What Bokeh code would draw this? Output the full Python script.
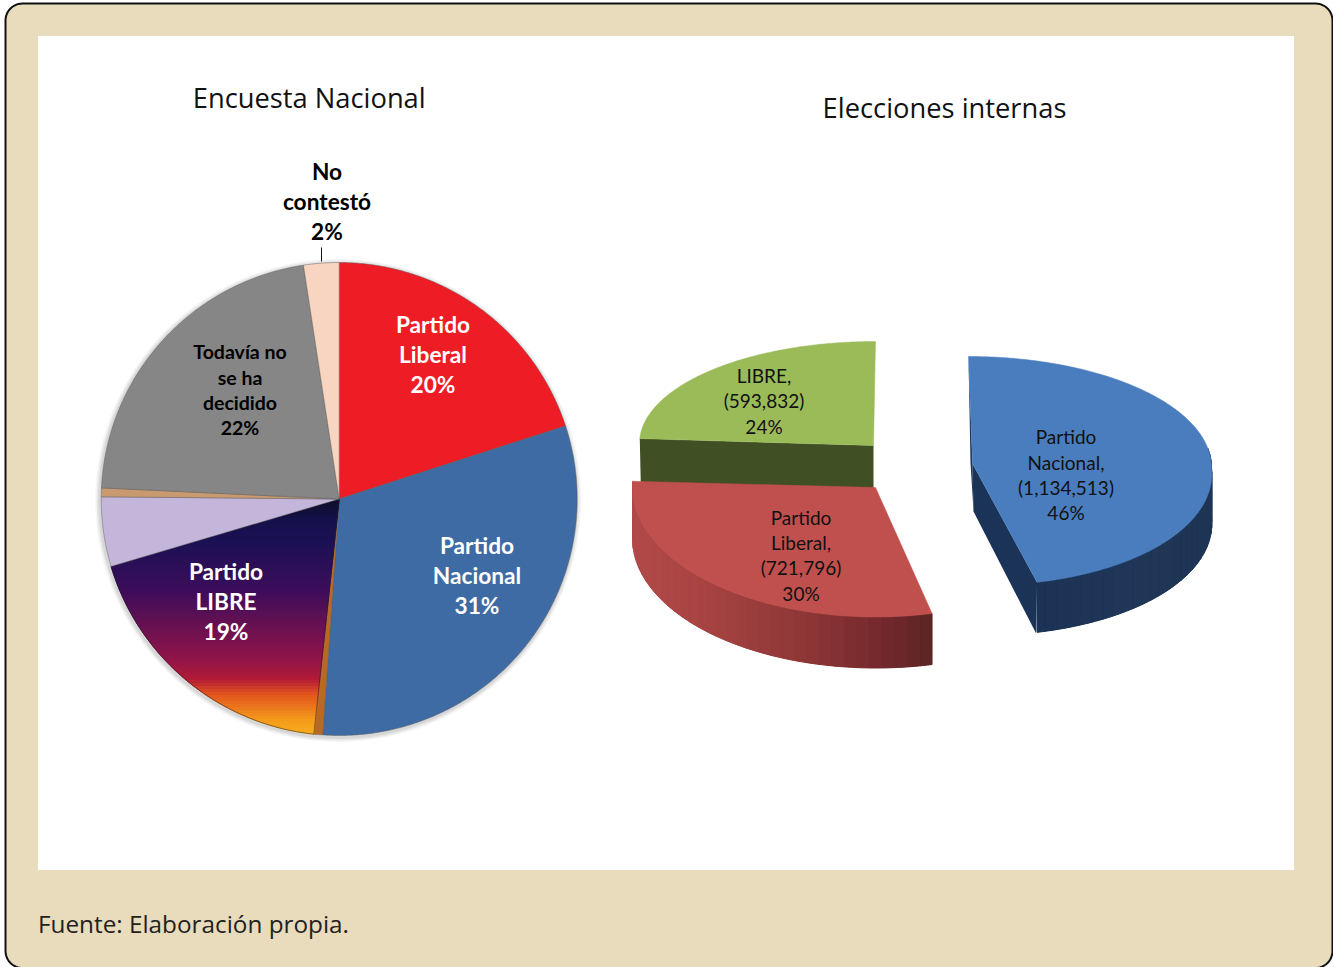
import math
from bokeh.plotting import figure
from bokeh.models import Range1d
from bokeh.core.properties import value
from bokeh.embed import file_html
from bokeh.resources import INLINE

# ---------- data ----------
survey_categories = ["Partido Liberal", "Partido Nacional", "Otro A", "Partido LIBRE", "Otro B", "Otro C",
                     "Todavía no se ha decidido", "No contestó"]
survey_values = [20.0, 31.1, 0.6, 18.7, 4.75, 0.6, 21.85, 2.4]
survey_colors = ["#ee1c25", "#3e6ba3", "#b86a22", None, "#c4b6da", "#c99a70", "#868686", "#f8d5c0"]

internal_categories = ["Partido Nacional", "Partido Liberal", "LIBRE"]
internal_votes = [1134513, 721796, 593832]

title_left = "Encuesta Nacional"
title_right = "Elecciones internas"
source_note = "Fuente: Elaboración propia."

survey_labels = [
    (["Partido", "Liberal", "20%"], 433, [325, 355, 385], "white", 22.7),
    (["Partido", "Nacional", "31%"], 477, [546, 576, 606], "white", 22.7),
    (["Partido", "LIBRE", "19%"], 226, [572, 602, 632], "white", 22.7),
    (["Todavía no", "se ha", "decidido", "22%"], 240, [352, 378, 403, 428], "black", 19.5),
    (["No", "contestó", "2%"], 327, [172, 202, 232], "black", 22.7),
]
internal_labels = [
    (["LIBRE,", "(593,832)", "24%"], 764, [376, 401, 427]),
    (["Partido", "Liberal,", "(721,796)", "30%"], 801, [518, 543, 568, 594]),
    (["Partido", "Nacional,", "(1,134,513)", "46%"], 1066, [437, 463, 488, 513]),
]

# ---------- helpers ----------
def hex2rgb(h):
    return tuple(int(h[i:i + 2], 16) for i in (1, 3, 5))

def ramp(stops, t):
    if t <= stops[0][0]:
        return stops[0][1]
    for (a, ca), (b, cb) in zip(stops, stops[1:]):
        if t <= b:
            f = (t - a) / (b - a)
            ra, rb = hex2rgb(ca), hex2rgb(cb)
            return "#%02x%02x%02x" % tuple(round(x + (y - x) * f) for x, y in zip(ra, rb))
    return stops[-1][1]

def clip_y(poly, lo, hi):
    def clip(pts, inside, cross):
        out = []
        for i, p in enumerate(pts):
            q = pts[(i + 1) % len(pts)]
            if inside(p):
                out.append(p)
            if inside(p) != inside(q):
                out.append(cross(p, q))
        return out
    def at(y):
        return lambda p, q: (p[0] + (q[0] - p[0]) * (y - p[1]) / (q[1] - p[1]), y)
    pts = clip(poly, lambda p: p[1] >= lo, at(lo))
    if pts:
        pts = clip(pts, lambda p: p[1] <= hi, at(hi))
    return pts

def rounded(x0, y0, x1, y1, r):
    pts = []
    for cx, cy, a0 in [(x1 - r, y0 + r, -90), (x1 - r, y1 - r, 0), (x0 + r, y1 - r, 90), (x0 + r, y0 + r, 180)]:
        for k in range(13):
            a = math.radians(a0 + k * 7.5)
            pts.append((cx + r * math.cos(a), cy + r * math.sin(a)))
    return pts

p = figure(width=1333, height=967, x_range=Range1d(0, 1333), y_range=Range1d(967, 0),
           output_backend="svg", toolbar_location=None, min_border=0,
           background_fill_color="white", border_fill_color="white", outline_line_color=None,
           styles={"position": "absolute", "left": "0px", "top": "0px"})
p.axis.visible = False
p.grid.visible = False

def poly(pts, fill, line=None, lw=1, alpha=1.0, line_alpha=1.0):
    p.patch([q[0] for q in pts], [q[1] for q in pts], fill_color=fill, fill_alpha=alpha,
            line_color=line, line_width=lw, line_alpha=line_alpha)

def label(text, x, y, color, size, style="normal", font="Lato"):
    p.text([x], [y], text=[text], text_color=color, text_font=value(font), text_font_size=f"{size}px",
           text_font_style=style, text_align="center", text_baseline="middle")

# ---------- frame ----------
poly(rounded(5, 3, 1332, 967.5, 17), "#e8dcbd", "#111111", 2)
p.quad(left=[37.5], right=[1293.5], top=[35.5], bottom=[869.5], fill_color="white", line_color=None)

# ---------- left pie ----------
CX, CY, RX, RY = 338.7, 498.5, 238, 236.5

def wedge(a0, a1):
    n = max(3, int((a1 - a0) * 2))
    pts = [(CX, CY)]
    for k in range(n + 1):
        a = math.radians(a0 + (a1 - a0) * k / n)
        pts.append((CX + RX * math.sin(a), CY - RY * math.cos(a)))
    return pts

for grow, alpha in [(5, 0.05), (3.5, 0.07), (2, 0.10)]:
    p.ellipse([CX - 1], [CY + 1.5], width=[2 * (RX + grow)], height=[2 * (RY + grow)],
              fill_color="#444444", fill_alpha=alpha, line_color=None)

libre_stops = [(497, "#0e0e24"), (520, "#14104a"), (543, "#1b1055"), (593, "#3f0d5a"), (660, "#921448"),
               (680, "#b31c35"), (693, "#e0501e"), (720, "#f59a1a"), (736, "#f8b020")]
total = sum(survey_values)
angle = 0.0
for val, col in zip(survey_values, survey_colors):
    a1 = angle + val / total * 360
    w = wedge(angle, a1)
    if col is None:
        poly(w, "#3f0d5a")
        y = 497
        while y < 737:
            band = clip_y(w, y, y + 3)
            if len(band) > 2:
                c = ramp(libre_stops, y + 1.5)
                poly(band, c, c, 1)
            y += 3
        poly(w, None, "#222222", 1, 0.0, 0.5)
    else:
        poly(w, col, "#5a5a5a", 1, 1.0, 0.45)
    angle = a1

p.segment([321], [247], [321], [261], line_color="#111111", line_width=1)

# ---------- right exploded 3D pie ----------
def arc_pt(s, t):
    a = math.radians(t)
    ry = s["ry"] if math.cos(a) < 0 else s.get("ry_top", s["ry"])
    y = s["cy"] - ry * math.cos(a)
    x = s["cx"] + s["rx"] * math.sin(a) + s.get("shear", 0) * max(0, y - s["cy"])
    return x, y

vote_total = sum(internal_votes)
angles = [0.0]
for v in internal_votes:
    angles.append(angles[-1] + v / vote_total * 360)

geo_blue = dict(cx=968, cy=467, rx=243, ry=118, ry_top=111, shear=0.11, apex=(972, 463), depth=50)
geo_red = dict(cx=875.5, cy=487, rx=243.5, ry=129.5, apex=(875, 487), depth=51)
geo_green = dict(cx=875, cy=443, rx=236, ry=102, apex=(873, 445), depth=43)

def top_face(s, a0, a1):
    n = int((a1 - a0) * 2)
    return [s["apex"]] + [arc_pt(s, a0 + (a1 - a0) * k / n) for k in range(n + 1)]

def outer_wall(s, a0, a1, stops, base):
    d = s["depth"]
    n = int(a1 - a0)
    ring = [arc_pt(s, a0 + (a1 - a0) * k / n) for k in range(n + 1)]
    poly(ring + [(q[0], q[1] + d) for q in reversed(ring)], base)
    step = 3
    for k in range(0, n, step):
        seg = ring[k:k + step + 1]
        c = ramp(stops, (seg[0][0] + seg[-1][0]) / 2)
        poly(seg + [(q[0], q[1] + d) for q in reversed(seg)], c, c, 1)

# green slice
g0, g1 = angles[2], angles[3]
gl = arc_pt(geo_green, g0)
ax, ay = geo_green["apex"]
poly([gl, (ax, ay), (ax, ay + geo_green["depth"]), (gl[0] + 1, gl[1] + geo_green["depth"] + 2)], "#404f24")
poly(top_face(geo_green, g0, g1), "#9bbb59", "#9bbb59", 0.5)

# red slice
r0, r1 = angles[1], angles[2]
outer_wall(geo_red, r0, r1, [(632, "#b04a48"), (700, "#a84443"), (800, "#8f3737"), (880, "#74292d"), (932, "#5c2525")],
           "#8f3737")
poly(top_face(geo_red, r0, r1), "#c0504d", "#c0504d", 0.5)

# blue slice
b0, b1 = angles[0], angles[1]
ax, ay = geo_blue["apex"]
d = geo_blue["depth"]
outer_wall(geo_blue, 80, b1, [(1036, "#1d3355"), (1130, "#1f3658"), (1212, "#1e3555")], "#1e3557")
fp = arc_pt(geo_blue, b1)
poly([(ax, ay), fp, (fp[0] - 1, fp[1] + d + 1), (ax + 1, ay + d - 2)], "#1c3358")
s0 = arc_pt(geo_blue, b0)
poly([s0, (ax, ay), (ax + 1, ay + d - 2), (ax - 2, ay)], "#1c3358")
poly(top_face(geo_blue, b0, b1), "#4a7dbe", "#4a7dbe", 0.5)

# ---------- texts ----------
for lines, x, ys, color, size in survey_labels:
    for t, y in zip(lines, ys):
        label(t, x - 0.5, y - 1.5, color, size, "bold")
for lines, x, ys in internal_labels:
    for t, y in zip(lines, ys):
        label(t, x - 0.5, y - 1.5, "#111111", 19)

label(title_left, 308.7, 97, "#111111", 27.3, font="Open Sans")
label(title_right, 944, 107, "#111111", 27.3, font="Open Sans")
p.text([37.5], [923], text=[source_note], text_color="#222222", text_font=value("Open Sans"),
       text_font_size="24.3px", text_align="left", text_baseline="middle")

open("out.html", "w").write(file_html(p, INLINE))
